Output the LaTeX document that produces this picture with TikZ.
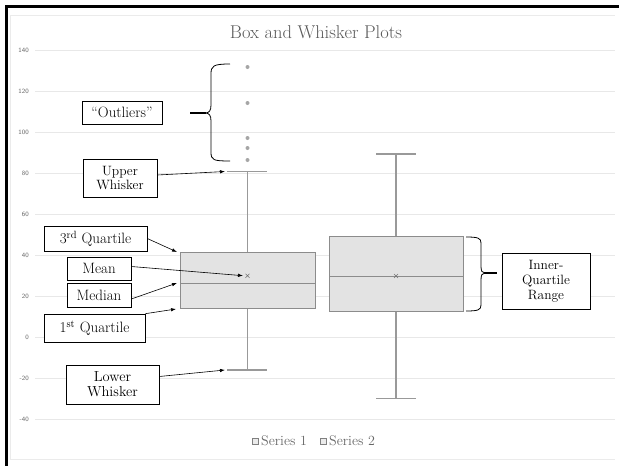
\documentclass[tikz,border=0pt]{standalone}
\usetikzlibrary{arrows.meta,calc}
\begin{document}
\begin{tikzpicture}[x=1pt,y=-1pt,
  lbl/.style={draw=black, line width=0.6pt, fill=white, inner sep=0pt,
    font=\fontsize{15}{15}\selectfont, align=center},
  ptr/.style={-{Latex[length=5pt,width=3.5pt]}, line width=0.6pt},
  gridln/.style={draw=black!9, line width=0.7pt},
  ax/.style={font=\sffamily\fontsize{6.5}{7}\selectfont, text=black!60, anchor=east, inner sep=0pt},
  boxq/.style={draw=black!45, fill=black!11, line width=0.9pt},
  whisk/.style={draw=black!40, line width=1.1pt},
  outl/.style={circle, fill=black!35, inner sep=0pt, minimum size=4pt},
  meanx/.style={draw=black!55, line width=0.6pt},
  bracel/.style={draw=black, line width=0.8pt},
  leg/.style={font=\fontsize{14}{15}\selectfont, text=black!60, inner sep=0pt, anchor=west}]
\useasboundingbox (0,0) rectangle (619,466);
% frame
\draw[black!8, line width=0.8pt] (10,15) -- (615,15) (10,15) -- (10,459) -- (615,459);
\draw[black, line width=3pt] (6,466) -- (6,6) -- (619,6);
% title
\node[font=\fontsize{18.5}{20}\selectfont, text=black!65] (title) at (316,32) {Box and Whisker Plots};
% grid and axis labels
\foreach \v/\yy in {140/50,120/91,100/132,80/173,60/214,40/255,20/296,0/337,-20/378,-40/419}{
  \draw[gridln] (35,\yy) -- (615,\yy);
  \node[ax] (ax\v) at (29,\yy) {\v};
}
% series 1
\draw[whisk] (247.5,171.5) -- (247.5,252.7) (247.5,308.6) -- (247.5,370);
\draw[whisk] (227,171.5) -- (267,171.5) (227,370) -- (267,370);
\draw[boxq] (180,252.7) rectangle (315,308.6);
\draw[draw=black!45, line width=0.9pt] (180,283.4) -- (315,283.4);
\draw[meanx] (245.5,273.8) -- (249.5,277.8) (245.5,277.8) -- (249.5,273.8);
\foreach \yy [count=\i] in {67,103,138,148,160}{
  \node[outl] (o\i) at (247.5,\yy) {};
}
% series 2
\draw[whisk] (396,154) -- (396,236.7) (396,311.5) -- (396,398.5);
\draw[whisk] (376,154) -- (416,154) (376,398.5) -- (416,398.5);
\draw[boxq] (329,236.7) rectangle (463,311.5);
\draw[draw=black!45, line width=0.9pt] (329,276.5) -- (463,276.5);
\draw[meanx] (394,274) -- (398,278) (394,278) -- (398,274);
% target coordinates
\coordinate (tuw) at (225,171.5);
\coordinate (tq3) at (177,252);
\coordinate (tmean) at (243,275.7);
\coordinate (tmed) at (177,283);
\coordinate (tq1) at (176,309);
\coordinate (tlw) at (225,370);
\coordinate (soutl) at (190,113);
\coordinate (siqr) at (497,273);
% labels
\node[lbl, minimum width=80pt, minimum height=23pt] (outliers) at (122,112.5) {``Outliers''};
\node[lbl, minimum width=74pt, minimum height=38pt, font=\fontsize{13.5}{14}\selectfont] (upper) at (120,178) {Upper\\Whisker};
\node[lbl, minimum width=103pt, minimum height=25pt] (q3) at (95.5,238.5) {3\textsuperscript{rd} Quartile};
\node[lbl, minimum width=64pt, minimum height=23pt] (mean) at (99,268.5) {Mean};
\node[lbl, minimum width=64pt, minimum height=24pt] (median) at (99,295) {Median};
\node[lbl, minimum width=101pt, minimum height=28pt] (q1) at (94.5,328) {1\textsuperscript{st} Quartile};
\node[lbl, minimum width=93pt, minimum height=39pt, font=\fontsize{14.5}{15}\selectfont] (lower) at (112.5,384.5) {Lower\\Whisker};
\node[lbl, minimum width=88pt, minimum height=56pt, font=\fontsize{13.5}{15}\selectfont] (iqr) at (546,281) {Inner-\\Quartile\\Range};
% arrows
\draw[ptr] ($(upper.east)+(0,-3)$) -- (tuw);
\draw[ptr] (q3.east) -- (tq3);
\draw[ptr] ($(mean.east)+(0,-2)$) -- (tmean);
\draw[ptr] ($(median.east)+(0,4)$) -- (tmed);
\draw[ptr] (q1.north east) -- (tq1);
\draw[ptr] ($(lower.east)+(0,-8)$) -- (tlw);
% outlier brace
\draw[bracel] (230,64) .. controls (213,64) and (211,66) .. (211,74) -- (211,105)
  .. controls (211,111) and (209,113) .. (205,113)
  .. controls (209,113) and (211,115) .. (211,121) -- (211,152)
  .. controls (211,160) and (213,161) .. (230,161);
\draw[black, line width=1.4pt] (soutl) -- (206,113);
% IQR brace
\draw[bracel] (466,237) .. controls (478,237) and (481,238) .. (481,243) -- (481,266)
  .. controls (481,271) and (482,273) .. (485,273)
  .. controls (482,273) and (481,275) .. (481,280) -- (481,305)
  .. controls (481,310) and (478,311) .. (466,311);
\draw[black, line width=1.4pt] (484,273) -- (siqr);
% legend
\draw[draw=black!50, fill=black!8, line width=0.5pt] (252,438) rectangle (258,444);
\node[leg] (s1) at (261,441) {Series 1};
\draw[draw=black!50, fill=black!8, line width=0.5pt] (320,438) rectangle (326,444);
\node[leg] (s2) at (329,441) {Series 2};
\end{tikzpicture}
\end{document}
